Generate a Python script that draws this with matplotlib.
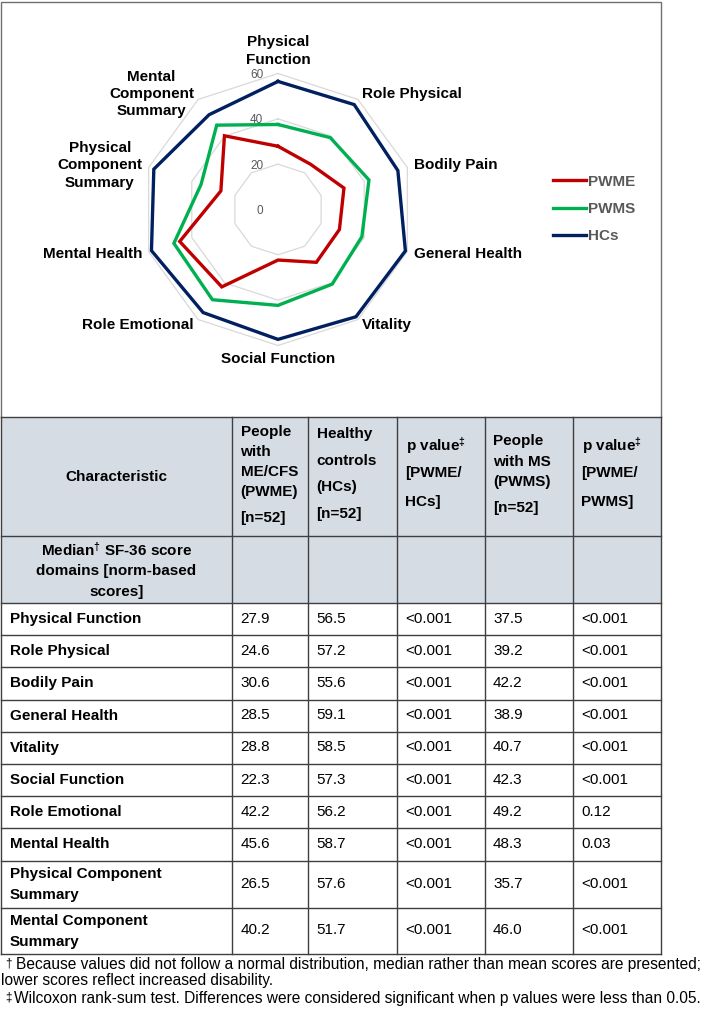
import matplotlib
matplotlib.use('Agg')
import matplotlib.pyplot as plt
import numpy as np
from matplotlib.lines import Line2D
from matplotlib.patches import Rectangle

plt.rcParams['font.family'] = ['Liberation Sans', 'DejaVu Sans']
plt.rcParams['mathtext.fontset'] = 'custom'
plt.rcParams['mathtext.rm'] = 'Liberation Sans:bold'
plt.rcParams['mathtext.bf'] = 'Liberation Sans:bold'
plt.rcParams['mathtext.it'] = 'Liberation Sans:bold:italic'

# ---------------- data ----------------
axis_labels = ["Physical\nFunction", "Role Physical", "Bodily Pain", "General Health",
               "Vitality", "Social Function", "Role Emotional", "Mental Health",
               "Physical\nComponent\nSummary", "Mental\nComponent\nSummary"]
table_labels = ["Physical Function", "Role Physical", "Bodily Pain", "General Health",
                "Vitality", "Social Function", "Role Emotional", "Mental Health",
                "Physical Component\nSummary", "Mental Component\nSummary"]
pwme = [27.9, 24.6, 30.6, 28.5, 28.8, 22.3, 42.2, 45.6, 26.5, 40.2]
hcs = [56.5, 57.2, 55.6, 59.1, 58.5, 57.3, 56.2, 58.7, 57.6, 51.7]
pwms = [37.5, 39.2, 42.2, 38.9, 40.7, 42.3, 49.2, 48.3, 35.7, 46.0]
p_pwme_hcs = ["<0.001", "<0.001", "<0.001", "<0.001", "<0.001",
              "<0.001", "<0.001", "<0.001", "<0.001", "<0.001"]
p_pwme_pwms = ["<0.001", "<0.001", "<0.001", "<0.001", "<0.001",
               "<0.001", "0.12", "0.03", "<0.001", "<0.001"]
radial_ticks = [0, 20, 40, 60]
series_names = ["PWME", "PWMS", "HCs"]
header_texts = ["Characteristic",
                "People\nwith\nME/CFS\n(PWME)\n[n=52]",
                "Healthy\ncontrols\n(HCs)\n[n=52]",
                r"p value$^{\ddagger}$" + "\n[PWME/\nHCs]",
                "People\nwith MS\n(PWMS)\n[n=52]",
                r"p value$^{\ddagger}$" + "\n[PWME/\nPWMS]"]
subheader_lines = [r"Median$^{\dagger}$ SF-36 score", "domains [norm-based", "scores]"]
footnote_marks = ["\u2020", "", "\u2021"]
footnotes = ["Because values did not follow a normal distribution, median rather than mean scores are presented;",
             "lower scores reflect increased disability.",
             "Wilcoxon rank-sum test. Differences were considered significant when p values were less than 0.05."]

# ---------------- layout ----------------
W, H = 710, 1010
fig = plt.figure(figsize=(W / 100, H / 100), dpi=100)
bg = fig.add_axes([0, 0, 1, 1])
bg.set_xlim(0, W)
bg.set_ylim(H, 0)
bg.axis('off')

colors = ['#C00000', '#00B050', '#002060']
grid_col = '#D9D9D9'
line_col = '#3F3F3F'
label_gray = '#595959'
FS = 11

# ---------------- radar chart ----------------
cx, cy, R = 278, 209.5, 136
ax = fig.add_axes([(cx - R) / W, 1 - (cy + R) / H, 2 * R / W, 2 * R / H], projection='polar')
ax.set_theta_zero_location('N')
ax.set_theta_direction(-1)
ax.set_ylim(0, 60)
ax.axis('off')
n = len(pwme)
theta = np.linspace(0, 2 * np.pi, n, endpoint=False)
theta_c = np.append(theta, theta[0])
for t in radial_ticks[1:]:
    ax.plot(theta_c, [t] * (n + 1), color=grid_col, lw=0.9, zorder=1, clip_on=False)
for vals, col, name in zip([pwme, pwms, hcs], colors, series_names):
    ax.plot(theta_c, list(vals) + [vals[0]], color=col, lw=2.4, zorder=3,
            clip_on=False, solid_joinstyle='miter', label=name)
for t in radial_ticks:
    ax.annotate(str(t), xy=(0, t), xytext=(-10.5, -1), textcoords='offset points',
                ha='right', va='center', fontsize=8.5, color=label_gray, zorder=4)
for th, lab in zip(theta, axis_labels):
    s, c = np.sin(th), np.cos(th)
    ha = 'left' if s > 0.1 else ('right' if s < -0.1 else 'center')
    va = 'bottom' if c > 0.9 else ('top' if c < -0.9 else 'center')
    ax.text(th, 63, lab, ha=ha, va=va, fontsize=FS, fontweight='bold',
            multialignment='center', linespacing=1.3, color='black')

handles = [Line2D([], [], color=c, lw=2.4) for c in colors]
fig.legend(handles, series_names, loc='center left',
           bbox_to_anchor=(553 / W, 1 - 209 / H), frameon=False,
           prop={'weight': 'bold', 'size': FS}, labelcolor=label_gray,
           handlelength=2.15, handletextpad=0.15, labelspacing=0.88,
           borderpad=0, borderaxespad=0)

# ---------------- table ----------------
col_x = [0.7, 232, 308, 397, 484.5, 573, 661]
y_top_box = 2
y_head = 417
y_head_bot = 536
y_sub_bot = 603
row_bounds = [603, 635.2, 667.4, 699.6, 731.8, 764, 796.2, 828.4, 860.6, 907.6, 954]

bg.add_patch(Rectangle((col_x[0], y_head), col_x[-1] - col_x[0], y_sub_bot - y_head,
                       facecolor='#D6DCE4', edgecolor='none', zorder=0))
# outer box of chart
bg.plot([col_x[0], col_x[0], col_x[-1], col_x[-1]], [y_head, y_top_box, y_top_box, y_head],
        color='#6F6F6F', lw=1.0, solid_joinstyle='miter')
for y in [y_head, y_head_bot] + row_bounds:
    bg.plot([col_x[0], col_x[-1]], [y, y], color=line_col, lw=1.0)
for x in col_x:
    bg.plot([x, x], [y_head, row_bounds[-1]], color=line_col, lw=1.0)


def put_lines(x, ys, lines, size=FS, **kw):
    for y, s in zip(ys, lines):
        bg.text(x, y, s, va='center', fontsize=size, **kw)


pad = 8.5
head_ys = [[477],
           [431.7, 451.7, 471.7, 491.7, 518.3],
           [434, 460.7, 487.3, 514.3],
           [446, 473.3, 502.3],
           [441, 461.7, 481.7, 508.3],
           [446, 473.3, 502.3]]
put_lines((col_x[0] + col_x[1]) / 2, head_ys[0], [header_texts[0]], ha='center', fontweight='bold')
for j in range(1, 6):
    put_lines(col_x[j] + pad, head_ys[j], header_texts[j].split('\n'), ha='left', fontweight='bold')
put_lines((col_x[0] + col_x[1]) / 2, [550, 571, 592], subheader_lines, ha='center', fontweight='bold')

for i in range(len(table_labels)):
    y0, y1 = row_bounds[i], row_bounds[i + 1]
    ym = (y0 + y1) / 2
    parts = table_labels[i].split('\n')
    ys = [ym] if len(parts) == 1 else [ym - 10, ym + 11]
    put_lines(col_x[0] + 9, ys, parts, ha='left', fontweight='bold')
    row_vals = [f"{pwme[i]:.1f}", f"{hcs[i]:.1f}", p_pwme_hcs[i], f"{pwms[i]:.1f}", p_pwme_pwms[i]]
    for j, v in enumerate(row_vals):
        put_lines(col_x[j + 1] + pad, [ym - 0.5], [v], ha='left')

# footnotes
foot_ys = [965, 981, 998]
foot_x = [15.5, 1, 13.5]
for y, x, mark, s in zip(foot_ys, foot_x, footnote_marks, footnotes):
    if mark:
        bg.text(5, y - 1, mark, va='center', ha='left', fontsize=8.5, color='black')
    bg.text(x, y, s, va='center', ha='left', fontsize=11.2, color='black')

fig.savefig('out.png', dpi=100, facecolor='white')
